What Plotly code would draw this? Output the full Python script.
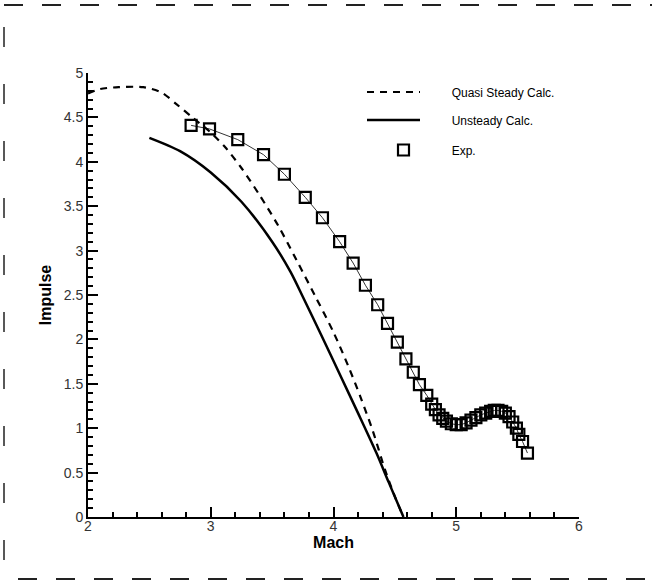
import plotly.graph_objects as go

# Quasi steady calculation (dashed)
qs_mach = [2.00, 2.10, 2.25, 2.45, 2.60, 2.72, 2.85, 3.00, 3.12, 3.25, 3.40, 3.55, 3.70, 3.85, 4.00, 4.12, 4.22, 4.32, 4.42, 4.50, 4.57]
qs_imp  = [4.77, 4.82, 4.84, 4.84, 4.78, 4.65, 4.50, 4.33, 4.16, 3.93, 3.62, 3.28, 2.89, 2.49, 2.08, 1.70, 1.35, 0.97, 0.53, 0.23, 0.00]

# Unsteady calculation (solid)
us_mach = [2.50, 2.75, 3.00, 3.25, 3.50, 3.65, 3.75, 3.90, 4.05, 4.20, 4.35, 4.45, 4.57]
us_imp  = [4.27, 4.12, 3.88, 3.55, 3.10, 2.76, 2.48, 2.05, 1.61, 1.17, 0.72, 0.39, 0.00]

# Experiment (squares)
exp_mach = [2.84, 2.99, 3.22, 3.43, 3.60, 3.77, 3.91, 4.05, 4.16, 4.26, 4.36, 4.44, 4.52, 4.59, 4.65, 4.70,
            4.76, 4.80, 4.83, 4.86, 4.89, 4.92, 4.96, 5.00, 5.04, 5.08, 5.12, 5.16, 5.20, 5.24, 5.28,
            5.31, 5.34, 5.37, 5.40, 5.43, 5.46, 5.49, 5.51, 5.54, 5.58]
exp_imp  = [4.41, 4.37, 4.25, 4.08, 3.86, 3.60, 3.37, 3.10, 2.86, 2.61, 2.39, 2.18, 1.97, 1.78, 1.63, 1.49,
            1.37, 1.27, 1.21, 1.15, 1.11, 1.08, 1.05, 1.04, 1.04, 1.06, 1.09, 1.12, 1.15, 1.17, 1.19,
            1.20, 1.20, 1.19, 1.17, 1.13, 1.07, 1.00, 0.93, 0.85, 0.72]

x_ticks = [2, 3, 4, 5, 6]
y_ticks = [0, 0.5, 1, 1.5, 2, 2.5, 3, 3.5, 4, 4.5, 5]
y_tick_text = ["0", "0.5", "1", "1.5", "2", "2.5", "3", "3.5", "4", "4.5", "5"]

FONT = "Liberation Sans, Arial, Helvetica, sans-serif"
PAD = "\u00a0" * 8

fig = go.Figure()
fig.add_trace(go.Scatter(x=exp_mach, y=exp_imp, mode="lines", line=dict(color="#333", width=1),
                         showlegend=False, hoverinfo="skip"))
fig.add_trace(go.Scatter(x=qs_mach, y=qs_imp, mode="lines", name=PAD + "Quasi Steady Calc.",
                         line=dict(color="black", width=2.2, dash="7px,6px", shape="spline", smoothing=0.8),
                         legend="legend"))
fig.add_trace(go.Scatter(x=us_mach, y=us_imp, mode="lines", name=PAD + "Unsteady Calc.",
                         line=dict(color="black", width=2.5, shape="spline", smoothing=0.8),
                         legend="legend2"))
fig.add_trace(go.Scatter(x=exp_mach, y=exp_imp, mode="markers", name="\u00a0" * 5 + "Exp.",
                         marker=dict(symbol="square-open", size=11, color="black", line=dict(width=2.2)),
                         legend="legend3"))

W, H = 652, 582
L, R, T, B = 88, 73, 73, 65
pw, ph = W - L - R, H - T - B

def px2paper_x(px):
    return (px - L) / pw

def px2paper_y(py):
    return (H - B - py) / ph

leg_common = dict(xanchor="left", yanchor="middle", bgcolor="rgba(0,0,0,0)",
                  font=dict(family=FONT, size=12, color="black"), itemwidth=53)
fig.update_layout(
    width=W, height=H,
    margin=dict(l=L, r=R, t=T, b=B),
    paper_bgcolor="white", plot_bgcolor="white",
    font=dict(family=FONT, color="black"),
    legend=dict(x=px2paper_x(362), y=px2paper_y(92), **leg_common),
    legend2=dict(x=px2paper_x(362), y=px2paper_y(120), **leg_common),
    legend3=dict(x=px2paper_x(372), y=px2paper_y(150), **leg_common),
    xaxis=dict(range=[2, 6], tickvals=x_ticks, showgrid=False, zeroline=False,
               showline=True, linecolor="black", linewidth=2,
               ticks="inside", ticklen=10, tickwidth=2, tickcolor="black",
               minor=dict(ticks="inside", ticklen=5, tickwidth=1.5, tickcolor="black", dtick=0.2, showgrid=False),
               tickfont=dict(family=FONT, size=14, color="#333"), ticklabelstandoff=-5,
               title=dict(text="<b>Mach</b>", font=dict(family=FONT, size=16, color="black"), standoff=2)),
    yaxis=dict(range=[0, 5], tickvals=y_ticks, ticktext=y_tick_text, showgrid=False, zeroline=False,
               showline=True, linecolor="black", linewidth=2,
               ticks="inside", ticklen=10, tickwidth=2, tickcolor="black",
               minor=dict(ticks="inside", ticklen=5, tickwidth=1.5, tickcolor="black", dtick=0.1, showgrid=False),
               tickfont=dict(family=FONT, size=14, color="#333"),
               title=dict(text="<b>Impulse</b>", font=dict(family=FONT, size=16, color="black"), standoff=8)),
)

# dashed frame around the picture
frame = dict(color="#222", width=2)
fig.add_shape(type="line", xref="paper", yref="paper", x0=px2paper_x(4), x1=px2paper_x(652),
              y0=px2paper_y(5), y1=px2paper_y(5), line=dict(dash="19px,19px", **frame))
fig.add_shape(type="line", xref="paper", yref="paper", x0=px2paper_x(18), x1=px2paper_x(652),
              y0=px2paper_y(579), y1=px2paper_y(579), line=dict(dash="19px,19px", **frame))
fig.add_shape(type="line", xref="paper", yref="paper", x0=px2paper_x(4), x1=px2paper_x(4),
              y0=px2paper_y(27), y1=px2paper_y(582), line=dict(dash="20px,37px", color="#222", width=1.5))

fig.write_html("out.html", config={"displayModeBar": False},
               post_script="document.body.style.margin='0';document.body.style.overflow='hidden';")
